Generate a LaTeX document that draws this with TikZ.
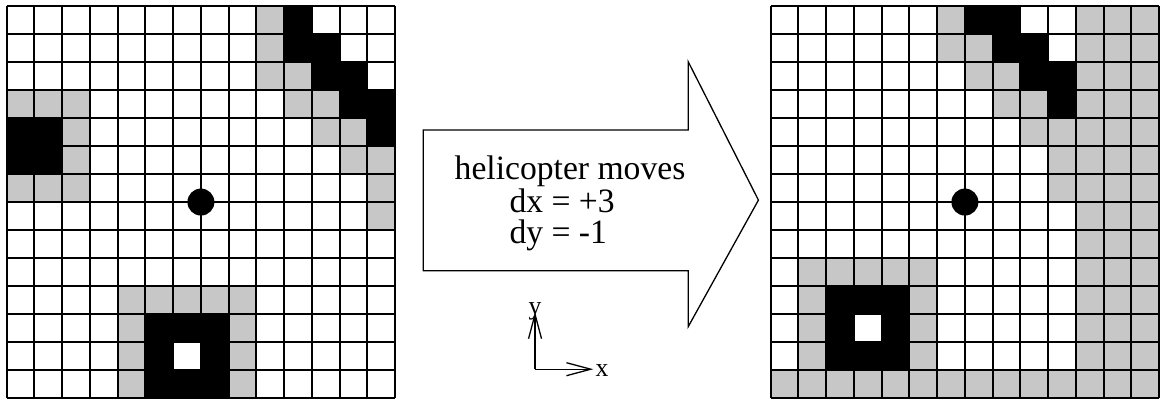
\documentclass[tikz,border=0pt]{standalone}
\usepackage{fontspec}
\setmainfont{Liberation Serif}[FakeStretch=0.985]
\usetikzlibrary{arrows.meta}
\begin{document}
\begin{tikzpicture}[x=0.6cm, y=0.6054cm,
    unknowncell/.style={fill=black!22},
    obstaclecell/.style={fill=black},
    cellgrid/.style={line width=1.3pt},
    movebox/.style={line width=0.8pt, line join=miter},
    axisarrow/.style={line width=0.8pt, -{Straight Barb[length=15pt,width=8pt]}},
    movetext/.style={font=\fontsize{21}{25}\selectfont, inner sep=0pt},
    axislabel/.style={font=\fontsize{16}{19}\selectfont, inner sep=0pt}]
    \useasboundingbox (0,0) rectangle (41.80,14.286);
    % Map before the move
    \begin{scope}[shift={(0.24,14.07)}, yscale=-1]
        \foreach \c/\r in {0/3,1/3,2/3,2/4,2/5,0/6,1/6,2/6,
                           9/0,9/1,9/2,10/2,10/3,11/3,11/4,12/4,12/5,13/5,13/6,13/7,
                           4/10,5/10,6/10,7/10,8/10,4/11,4/12,4/13,8/11,8/12,8/13}
            \fill[unknowncell] (\c,\r) rectangle ++(1,1);
        \foreach \i in {0,...,14} {
            \draw[cellgrid] (\i,0) -- (\i,14);
            \draw[cellgrid] (0,\i) -- (14,\i);
        }
        \foreach \c/\r in {0/4,1/4,0/5,1/5,
                           10/0,10/1,11/1,11/2,12/2,12/3,13/3,13/4,
                           5/11,6/11,7/11,5/12,7/12,5/13,6/13,7/13}
            \fill[obstaclecell] (\c,\r) rectangle ++(1,1);
        \fill (7,7) circle (8.3pt); % helicopter
    \end{scope}
    % Map after the move
    \begin{scope}[shift={(27.77,14.07)}, yscale=-1]
        \foreach \c/\r in {6/0,6/1,7/1,7/2,8/2,8/3,9/3,9/4,10/4,10/5,10/6,
                           1/9,2/9,3/9,4/9,5/9,1/10,1/11,1/12,5/10,5/11,5/12}
            \fill[unknowncell] (\c,\r) rectangle ++(1,1);
        \foreach \c in {11,12,13}
            \fill[unknowncell] (\c,0) rectangle (\c+1,14);
        \fill[unknowncell] (0,13) rectangle (11,14);
        \foreach \i in {0,...,14} {
            \draw[cellgrid] (\i,0) -- (\i,14);
            \draw[cellgrid] (0,\i) -- (14,\i);
        }
        \foreach \c/\r in {7/0,8/0,8/1,9/1,9/2,10/2,10/3,
                           2/10,3/10,4/10,2/11,4/11,2/12,3/12,4/12}
            \fill[obstaclecell] (\c,\r) rectangle ++(1,1);
        \fill (7,7) circle (8.3pt); % helicopter
    \end{scope}
    % Big arrow
    \draw[movebox] (15.25,9.64) -- (24.80,9.64) -- (24.80,12.08) -- (27.33,7.14)
        -- (24.80,2.62) -- (24.80,4.62) -- (15.25,4.62) -- cycle;
    \node[movetext, anchor=base] (moves) at (20.54,7.86) {helicopter moves};
    \node[movetext, anchor=base west] (dx) at (18.35,6.71) {dx = +3};
    \node[movetext, anchor=base west] (dy) at (18.35,5.58) {dy = -1};
    % Axes
    \coordinate (origin) at (19.28,1.10);
    \coordinate (xtip) at (21.38,1.10);
    \coordinate (ytip) at (19.28,3.15);
    \draw[axisarrow] (origin) -- (xtip);
    \draw[axisarrow] (origin) -- (ytip);
    \node[axislabel] (xlab) at (21.69,1.04) {x};
    \node[axislabel] (ylab) at (19.28,3.18) {y};
\end{tikzpicture}
\end{document}
